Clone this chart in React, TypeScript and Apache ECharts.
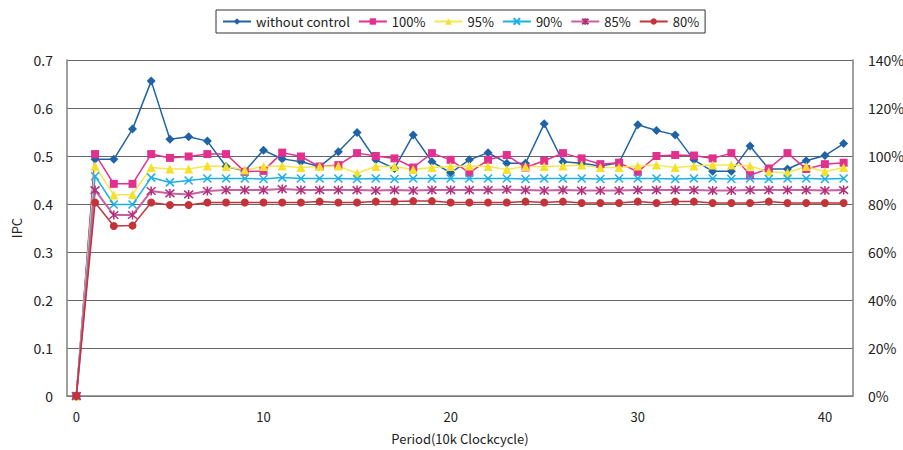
import React, { useEffect, useRef } from "react";
import * as echarts from "echarts";

const periods: string[] = Array.from({ length: 42 }, (_, i) => String(i));

const withoutControl = [0, 0.493, 0.493, 0.556, 0.656, 0.535, 0.54, 0.531, 0.478, 0.469, 0.512, 0.494, 0.488, 0.478, 0.509, 0.549, 0.492, 0.474, 0.544, 0.488, 0.465, 0.492, 0.507, 0.485, 0.485, 0.567, 0.488, 0.485, 0.479, 0.486, 0.565, 0.553, 0.544, 0.492, 0.468, 0.468, 0.521, 0.473, 0.473, 0.49, 0.501, 0.526];
const ctl100 = [0, 0.504, 0.442, 0.442, 0.504, 0.496, 0.499, 0.504, 0.504, 0.467, 0.469, 0.507, 0.499, 0.478, 0.481, 0.506, 0.5, 0.495, 0.476, 0.506, 0.492, 0.465, 0.492, 0.502, 0.476, 0.49, 0.506, 0.495, 0.483, 0.486, 0.467, 0.5, 0.502, 0.501, 0.495, 0.506, 0.46, 0.474, 0.506, 0.473, 0.483, 0.486];
const ctl95 = [0, 0.479, 0.419, 0.42, 0.476, 0.473, 0.473, 0.479, 0.478, 0.471, 0.478, 0.479, 0.476, 0.478, 0.479, 0.464, 0.478, 0.478, 0.472, 0.476, 0.478, 0.479, 0.478, 0.472, 0.478, 0.478, 0.479, 0.481, 0.476, 0.476, 0.479, 0.481, 0.476, 0.479, 0.481, 0.481, 0.479, 0.467, 0.465, 0.478, 0.467, 0.476];
const ctl90 = [0, 0.458, 0.399, 0.399, 0.455, 0.445, 0.449, 0.453, 0.453, 0.453, 0.452, 0.455, 0.453, 0.453, 0.453, 0.452, 0.453, 0.452, 0.453, 0.453, 0.453, 0.453, 0.453, 0.453, 0.452, 0.453, 0.453, 0.453, 0.452, 0.453, 0.453, 0.453, 0.452, 0.453, 0.453, 0.452, 0.453, 0.452, 0.453, 0.453, 0.452, 0.453];
const ctl85 = [0, 0.429, 0.377, 0.377, 0.427, 0.422, 0.42, 0.427, 0.429, 0.429, 0.429, 0.431, 0.429, 0.429, 0.429, 0.429, 0.428, 0.429, 0.428, 0.429, 0.429, 0.429, 0.429, 0.43, 0.429, 0.428, 0.429, 0.428, 0.428, 0.428, 0.429, 0.429, 0.429, 0.429, 0.428, 0.428, 0.429, 0.429, 0.429, 0.429, 0.428, 0.429];
const ctl80 = [0, 0.403, 0.354, 0.355, 0.403, 0.398, 0.398, 0.403, 0.403, 0.403, 0.403, 0.403, 0.403, 0.405, 0.403, 0.403, 0.405, 0.405, 0.406, 0.406, 0.403, 0.403, 0.403, 0.403, 0.405, 0.403, 0.405, 0.402, 0.402, 0.402, 0.405, 0.402, 0.405, 0.405, 0.402, 0.402, 0.402, 0.405, 0.402, 0.402, 0.402, 0.402];

const seriesNames = ["without control", "100%", "95%", "90%", "85%", "80%"];
const yTicksLeft = [0, 0.1, 0.2, 0.3, 0.4, 0.5, 0.6, 0.7];

const FONT = "'Noto Sans CJK JP', 'Noto Sans', sans-serif";

const X_SYMBOL = "path://M0,0L10,10M10,0L0,10";
const STAR_SYMBOL = "path://M0,0L10,10M10,0L0,10M5,-1L5,11";

export default function App() {
  const ref = useRef<HTMLDivElement>(null);
  useEffect(() => {
    if (!ref.current) return;
    const chart = echarts.init(ref.current, undefined, { renderer: "svg" });
    const mk = (name: string, data: number[], color: string, symbol: string, size: number, extra: any = {}) => ({
      name,
      type: "line",
      data,
      yAxisIndex: 0,
      symbol,
      symbolSize: size,
      lineStyle: { color, width: 1.5 },
      itemStyle: { color },
      emphasis: { disabled: true },
      ...extra,
    });
    chart.setOption({
      animation: false,
      textStyle: { fontFamily: FONT },
      legend: {
        left: 216,
        top: 10,
        padding: [5, 6],
        itemGap: 8,
        itemWidth: 28,
        itemHeight: 8,
        borderColor: "#333",
        borderWidth: 1,
        textStyle: { fontSize: 13, color: "#222", fontFamily: FONT },
        data: seriesNames,
      },
      grid: { left: 67, right: 50, top: 60, bottom: 54, containLabel: false, outerBoundsMode: "none" },
      xAxis: {
        type: "category",
        data: periods,
        boundaryGap: true,
        name: "Period(10k Clockcycle)",
        nameLocation: "middle",
        nameGap: 36,
        nameTextStyle: { fontSize: 13, color: "#222", fontFamily: FONT },
        axisLine: { lineStyle: { color: "#808080", width: 1.5 } },
        axisTick: { inside: true, length: 5, interval: 0, lineStyle: { color: "#666" } },
        axisLabel: { interval: 9, margin: 14, fontSize: 13, color: "#222", fontFamily: FONT },
        splitLine: { show: false },
      },
      yAxis: [
        {
          type: "value",
          min: 0,
          max: 0.7,
          interval: 0.1,
          name: "IPC",
          nameLocation: "middle",
          nameGap: 44,
          nameRotate: 90,
          nameTextStyle: { fontSize: 13, color: "#222", fontFamily: FONT },
          axisLine: { show: true, lineStyle: { color: "#808080", width: 1.5 } },
          axisTick: { show: false },
          axisLabel: {
            margin: 14,
            fontSize: 14,
            color: "#222",
            fontFamily: FONT,
            formatter: (v: number) => {
              const t = yTicksLeft.find((x) => Math.abs(x - v) < 1e-6);
              return t === undefined ? "" : t === 0 ? "0" : t.toFixed(1);
            },
          },
          splitLine: { show: true, lineStyle: { color: "#666", width: 1 } },
        },
        {
          type: "value",
          min: 0,
          max: 1.4,
          interval: 0.2,
          position: "right",
          axisLine: { show: true, lineStyle: { color: "#808080", width: 1.5 } },
          axisTick: { show: false },
          axisLabel: {
            margin: 15,
            fontSize: 14,
            color: "#222",
            fontFamily: FONT,
            formatter: (v: number) => `${Math.round(v * 100)}%`,
          },
          splitLine: { show: false },
        },
      ],
      series: [
        mk("without control", withoutControl, "#1F63A6", "diamond", 9),
        mk("100%", ctl100, "#E2308F", "rect", 8),
        mk("95%", ctl95, "#F5E02A", "triangle", 9, { lineStyle: { color: "#F7E650", width: 1.5 } }),
        mk("90%", ctl90, "#1DB0E6", X_SYMBOL, 8, { itemStyle: { color: "#1DB0E6", borderColor: "#1DB0E6", borderWidth: 1.5 } }),
        mk("85%", ctl85, "#B0307A", STAR_SYMBOL, 9, {
          lineStyle: { color: "#CC5FA0", width: 2 },
          itemStyle: { color: "#B0307A", borderColor: "#B0307A", borderWidth: 1.5 },
        }),
        mk("80%", ctl80, "#C4323A", "circle", 8),
      ],
    });
    return () => chart.dispose();
  }, []);
  return <div ref={ref} style={{ position: "absolute", left: 0, top: 0, width: 903, height: 450 }} />;
}
